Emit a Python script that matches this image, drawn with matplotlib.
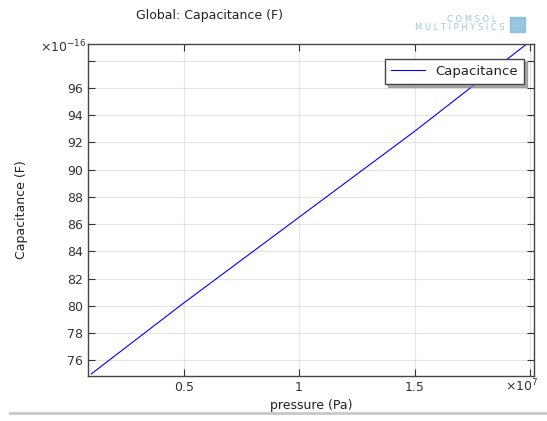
import matplotlib.pyplot as plt
import numpy as np

# pressure (x1e7 Pa) and capacitance (x1e-16 F)
pressure = [0.1, 0.5, 1.0, 1.5, 2.0]
capacitance = [75.0, 80.2, 86.5, 92.8, 99.4]

xticks = [0.5, 1.0, 1.5, 2.0]
xticklabels = ['0.5', '1', '1.5', '']
yticks = [76, 78, 80, 82, 84, 86, 88, 90, 92, 94, 96, 98]
yticklabels = [str(v) for v in yticks[:-1]] + ['']

fig = plt.figure(figsize=(5.47, 4.21), dpi=100)
ax = fig.add_axes([0.161, 0.107, 0.815, 0.788])

ax.plot(pressure, capacitance, color='#0000ff', lw=0.8, label='Capacitance')

ax.set_xlim(0.086, 2.017)
ax.set_ylim(74.85, 99.2)
ax.set_xticks(xticks)
ax.set_xticklabels(xticklabels)
ax.set_yticks(yticks)
ax.set_yticklabels(yticklabels)
ax.grid(True, color='#e4e4e4', lw=0.8)
ax.tick_params(direction='in', length=5, width=0.8, top=True, right=True,
               labelsize=9, colors='#333333', labelcolor='#333333')
for s in ax.spines.values():
    s.set_color('#444444')
    s.set_linewidth(1.0)

ax.set_xlabel('pressure (Pa)', fontsize=9, color='#222222', labelpad=4)
ax.set_ylabel('Capacitance (F)', fontsize=9, color='#222222', labelpad=28)

# exponent labels
fig.text(40 / 547, 1 - 47 / 421, r'$\times$10$^{-16}$', fontsize=9, color='#333333', va='center')
fig.text(505 / 547, 1 - 386 / 421, r'$\times$10$^{7}$', fontsize=9, color='#333333', va='center')

fig.text(209 / 547, 1 - 15 / 421, 'Global: Capacitance (F)', fontsize=9,
         color='#222222', ha='center', va='center')

# logo text
fig.text(472 / 547, 1 - 19 / 421, 'C O M S O L', fontsize=6, color='#9cc8e0', ha='center', va='center')
fig.text(460 / 547, 1 - 28 / 421, 'M U L T I P H Y S I C S', fontsize=6, color='#9cc8e0',
         ha='center', va='center')
fig.patches.append(plt.Rectangle((510 / 547, 1 - 32 / 421), 15 / 547, 15 / 421,
                                 transform=fig.transFigure, color='#7fb8d8', alpha=0.8))

leg = ax.legend(loc='upper right', bbox_to_anchor=(0.993, 0.975), fontsize=9.5,
                fancybox=False, shadow={'color': '#888888', 'alpha': 0.7},
                handlelength=2.6, borderpad=0.45, framealpha=1)
leg.get_frame().set_edgecolor('#444444')
leg.get_frame().set_linewidth(1.0)
for t in leg.get_texts():
    t.set_color('#222222')

# separator line at the bottom
fig.add_artist(plt.Line2D([10 / 547, 1], [1 - 413 / 421] * 2, transform=fig.transFigure,
                          color='#c8c8c8', lw=2))

fig.savefig('out.png', dpi=100)
